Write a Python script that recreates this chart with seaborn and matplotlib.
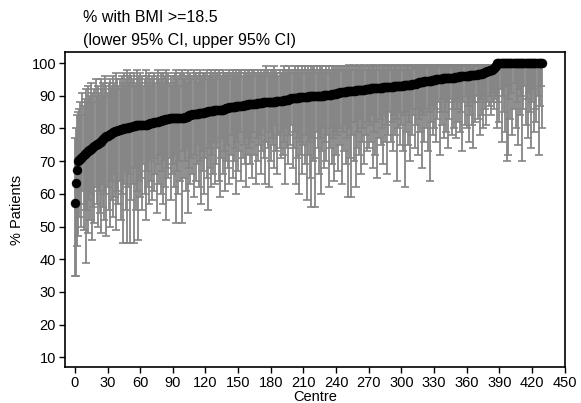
import numpy as np
import pandas as pd
import seaborn as sns
import matplotlib
matplotlib.use("Agg")
import matplotlib.pyplot as plt

# % of patients with BMI >= 18.5 per centre, sorted, with 95% CI
pct = [
    57.1, 63.2, 67.4, 70.0, 70.4, 70.8, 71.1, 71.4, 71.8, 72.2,
    72.5, 72.8, 73.0, 73.3, 73.5, 73.8, 74.1, 74.4, 74.7, 75.0,
    75.2, 75.4, 75.6, 75.8, 76.0, 76.4, 76.7, 77.0, 77.3, 77.6,
    77.8, 78.0, 78.2, 78.4, 78.6, 78.8, 79.0, 79.1, 79.2, 79.3,
    79.5, 79.6, 79.7, 79.8, 79.9, 80.0, 80.0, 80.1, 80.2, 80.3,
    80.4, 80.5, 80.6, 80.7, 80.8, 80.9, 81.0, 81.0, 81.0, 81.0,
    81.0, 81.0, 81.1, 81.1, 81.1, 81.2, 81.2, 81.3, 81.5, 81.7,
    81.8, 81.8, 81.8, 81.9, 82.0, 82.0, 82.1, 82.2, 82.3, 82.4,
    82.5, 82.6, 82.7, 82.8, 82.9, 83.0, 83.0, 83.1, 83.1, 83.1,
    83.2, 83.2, 83.3, 83.3, 83.3, 83.3, 83.3, 83.3, 83.3, 83.3,
    83.3, 83.4, 83.5, 83.6, 83.8, 84.0, 84.2, 84.2, 84.3, 84.3,
    84.4, 84.4, 84.5, 84.5, 84.6, 84.6, 84.6, 84.6, 84.7, 84.8,
    85.0, 85.1, 85.2, 85.3, 85.3, 85.4, 85.4, 85.5, 85.6, 85.7,
    85.7, 85.7, 85.7, 85.7, 85.7, 85.7, 85.8, 85.9, 86.0, 86.2,
    86.3, 86.4, 86.5, 86.5, 86.6, 86.7, 86.7, 86.7, 86.8, 86.8,
    86.9, 86.9, 87.0, 87.0, 87.0, 87.1, 87.1, 87.2, 87.3, 87.4,
    87.5, 87.5, 87.5, 87.5, 87.5, 87.6, 87.6, 87.7, 87.7, 87.8,
    87.8, 87.9, 87.9, 88.0, 88.0, 88.0, 88.0, 88.0, 88.0, 88.1,
    88.1, 88.2, 88.2, 88.2, 88.2, 88.3, 88.3, 88.4, 88.4, 88.5,
    88.5, 88.5, 88.6, 88.6, 88.7, 88.7, 88.8, 89.0, 89.1, 89.2,
    89.2, 89.3, 89.3, 89.3, 89.4, 89.4, 89.5, 89.5, 89.5, 89.5,
    89.5, 89.6, 89.6, 89.7, 89.7, 89.8, 89.8, 89.9, 89.9, 90.0,
    90.0, 90.0, 90.0, 90.0, 90.0, 90.0, 90.0, 90.0, 90.0, 90.1,
    90.1, 90.2, 90.2, 90.2, 90.3, 90.3, 90.4, 90.4, 90.5, 90.6,
    90.7, 90.8, 90.9, 91.0, 91.1, 91.2, 91.2, 91.3, 91.3, 91.3,
    91.4, 91.4, 91.4, 91.5, 91.5, 91.5, 91.6, 91.6, 91.7, 91.7,
    91.7, 91.7, 91.8, 91.8, 91.8, 91.9, 91.9, 92.0, 92.0, 92.0,
    92.1, 92.2, 92.3, 92.3, 92.3, 92.3, 92.4, 92.4, 92.4, 92.5,
    92.5, 92.5, 92.5, 92.6, 92.6, 92.6, 92.6, 92.7, 92.7, 92.7,
    92.8, 92.8, 92.8, 92.9, 92.9, 92.9, 93.0, 93.0, 93.0, 93.0,
    93.1, 93.1, 93.2, 93.2, 93.2, 93.3, 93.3, 93.3, 93.4, 93.4,
    93.5, 93.5, 93.6, 93.7, 93.8, 94.0, 94.1, 94.2, 94.3, 94.3,
    94.3, 94.4, 94.4, 94.4, 94.5, 94.5, 94.6, 94.6, 94.7, 94.7,
    94.8, 94.9, 95.0, 95.1, 95.2, 95.2, 95.2, 95.2, 95.3, 95.3,
    95.3, 95.3, 95.3, 95.4, 95.4, 95.4, 95.5, 95.5, 95.5, 95.6,
    95.6, 95.7, 95.8, 95.9, 96.0, 96.0, 96.0, 96.1, 96.1, 96.1,
    96.2, 96.2, 96.2, 96.3, 96.3, 96.3, 96.4, 96.4, 96.5, 96.5,
    96.6, 96.6, 96.7, 96.7, 96.8, 96.9, 97.0, 97.2, 97.4, 97.6,
    97.7, 97.8, 97.9, 98.0, 98.2, 98.5, 98.8, 99.2, 100, 100,
    100, 100, 100, 100, 100, 100, 100, 100, 100, 100,
    100, 100, 100, 100, 100, 100, 100, 100, 100, 100,
    100, 100, 100, 100, 100, 100, 100, 100, 100, 100,
    100, 100, 100, 100, 100, 100, 100, 100, 100, 100,
]

ci_lower = [
    35, 35, 44, 47, 53, 57, 50, 61, 49, 55,
    39, 55, 48, 58, 52, 60, 46, 56, 51, 62,
    57, 50, 61, 54, 48, 63, 56, 52, 60, 47,
    62, 55, 50, 64, 58, 53, 66, 59, 49, 61,
    57, 64, 52, 60, 45, 63, 67, 55, 45, 62,
    66, 45, 58, 63, 45, 68, 55, 61, 46, 64,
    59, 65, 55, 69, 60, 52, 67, 62, 57, 70,
    64, 58, 71, 61, 66, 54, 69, 63, 72, 60,
    67, 57, 70, 62, 52, 68, 65, 71, 58, 66,
    69, 62, 72, 51, 67, 60, 70, 64, 51, 73,
    65, 70, 61, 74, 54, 68, 63, 71, 66, 59,
    72, 64, 69, 75, 62, 70, 57, 73, 67, 60,
    71, 65, 55, 74, 68, 62, 72, 66, 76, 63,
    69, 74, 64, 59, 71, 77, 66, 73, 61, 70,
    75, 68, 63, 72, 78, 65, 70, 74, 60, 76,
    67, 73, 79, 64, 71, 75, 69, 62, 77, 72,
    74, 69, 76, 65, 79, 72, 63, 77, 70, 75,
    78, 66, 73, 80, 71, 63, 76, 74, 62, 79,
    70, 77, 75, 68, 81, 73, 66, 78, 74, 71,
    79, 72, 76, 63, 80, 74, 69, 78, 75, 81,
    68, 74, 79, 63, 71, 77, 60, 76, 72, 66,
    75, 69, 78, 58, 72, 76, 65, 56, 77, 70,
    71, 56, 79, 74, 66, 77, 60, 73, 80, 68,
    76, 70, 78, 62, 74, 80, 69, 77, 64, 79,
    72, 78, 67, 80, 75, 63, 79, 73, 81, 69,
    77, 59, 80, 71, 59, 78, 70, 82, 62, 74,
    79, 72, 83, 66, 76, 80, 69, 78, 73, 82,
    74, 81, 76, 84, 68, 79, 72, 82, 65, 77,
    83, 75, 80, 69, 84, 76, 81, 66, 78, 85,
    76, 82, 73, 84, 78, 83, 64, 80, 85, 75,
    81, 73, 84, 62, 79, 85, 75, 82, 70, 86,
    78, 84, 74, 81, 86, 72, 83, 79, 85, 68,
    84, 76, 86, 80, 73, 85, 64, 82, 87, 78,
    80, 86, 76, 83, 88, 72, 85, 81, 89, 77,
    85, 79, 88, 74, 83, 89, 78, 86, 80, 88,
    77, 86, 82, 89, 79, 85, 73, 88, 81, 90,
    80, 87, 76, 84, 89, 81, 74, 88, 82, 90,
    83, 88, 78, 89, 84, 80, 90, 86, 81, 88,
    87, 90, 84, 88, 91, 86, 89, 90, 80, 88,
    82, 92, 76, 90, 85, 79, 93, 70, 72, 89,
    83, 91, 78, 86, 94, 80, 88, 75, 92, 84,
    90, 70, 86, 93, 81, 89, 77, 91, 85, 74,
    88, 92, 79, 86, 82, 90, 72, 87, 93, 80,
]

ci_upper = [
    77, 80, 84, 85, 86, 88, 84, 91, 87, 89,
    92, 88, 93, 90, 89, 94, 91, 88, 92, 95,
    90, 93, 91, 89, 95, 92, 94, 90, 96, 93,
    91, 94, 95, 92, 93, 96, 94, 92, 97, 95,
    93, 95, 92, 96, 94, 97, 93, 95, 98, 96,
    94, 97, 96, 95, 97, 93, 94, 98, 96, 95,
    97, 94, 96, 93, 95, 98, 96, 94, 97, 95,
    93, 96, 95, 97, 94, 96, 98, 95, 94, 97,
    95, 97, 94, 96, 98, 95, 97, 94, 96, 93,
    96, 94, 97, 98, 95, 96, 93, 97, 98, 95,
    97, 95, 96, 94, 98, 96, 97, 95, 96, 98,
    95, 97, 96, 94, 97, 98, 96, 95, 97, 96,
    97, 98, 95, 96, 97, 98, 96, 97, 95, 98,
    96, 97, 98, 97, 95, 96, 98, 97, 96, 97,
    97, 96, 98, 97, 95, 98, 97, 96, 98, 97,
    96, 98, 97, 98, 96, 97, 98, 97, 96, 98,
    98, 97, 96, 98, 97, 98, 97, 96, 98, 97,
    97, 98, 96, 97, 98, 97, 99, 98, 97, 96,
    98, 97, 98, 99, 97, 98, 97, 96, 98, 97,
    97, 98, 99, 97, 98, 97, 98, 99, 97, 98,
    98, 97, 99, 98, 97, 99, 98, 97, 98, 99,
    98, 99, 97, 98, 99, 98, 97, 99, 98, 99,
    99, 98, 99, 97, 98, 99, 98, 99, 98, 97,
    98, 99, 98, 99, 98, 97, 99, 98, 99, 98,
    99, 98, 99, 98, 99, 99, 98, 99, 98, 99,
    99, 98, 99.5, 99, 98, 99, 99.5, 98, 99, 99,
    98, 99, 99.5, 99, 98, 99, 99.5, 99, 98, 99,
    99, 99.5, 98, 99, 99.5, 99, 98, 99, 99.5, 99,
    99, 98, 99.5, 99, 99, 99.5, 98, 99, 99.5, 99,
    99.5, 99, 98, 99, 99.5, 99, 99, 98, 99.5, 99,
    99, 99.5, 99, 98, 99, 99.5, 99, 99.5, 98, 99,
    99.5, 99, 99, 98.5, 99.5, 99, 99.5, 99, 98.5, 99.5,
    99, 99.5, 99, 99.5, 98.5, 99, 99.5, 99, 99.5, 99,
    99.5, 99, 99.5, 99, 99.5, 98.5, 99, 99.5, 99, 99.5,
    99, 99.5, 99, 99.5, 99, 99.5, 99, 98.5, 99.5, 99,
    99.5, 99, 99.5, 99, 99.5, 99, 99.5, 99, 99.5, 99,
    99, 99.5, 99, 99.5, 99, 99.5, 99, 99.5, 99, 99.5,
    99.5, 99, 99.5, 99, 99.5, 99, 99.5, 99.5, 99, 99.5,
    99.5, 99.5, 99.5, 99.5, 99.5, 99.5, 99.5, 99.8, 100, 100,
    100, 100, 100, 100, 100, 100, 100, 100, 100, 100,
    100, 100, 100, 100, 100, 100, 100, 100, 100, 100,
    100, 100, 100, 100, 100, 100, 100, 100, 100, 100,
    100, 100, 100, 100, 100, 100, 100, 100, 100, 100,
]

df = pd.DataFrame({"pct": pct, "lo": ci_lower, "hi": ci_upper})
df["centre"] = np.arange(len(df))

sns.set_style("ticks")
plt.rcParams["font.family"] = ["Liberation Sans", "DejaVu Sans"]
plt.rcParams["text.color"] = "black"
plt.rcParams["axes.labelcolor"] = "black"
plt.rcParams["xtick.color"] = "black"
plt.rcParams["ytick.color"] = "black"

fig, ax = plt.subplots(figsize=(5.81, 4.03), dpi=100)
fig.subplots_adjust(left=0.112, right=0.972, top=0.871, bottom=0.089)

# CI bars first so the dots sit on top
ax.errorbar(df["centre"], df["pct"],
            yerr=[df["pct"] - df["lo"], df["hi"] - df["pct"]],
            fmt="none", ecolor="#858585", elinewidth=1.3, capsize=3,
            capthick=1.2, zorder=1)
sns.scatterplot(data=df, x="centre", y="pct", color="black", s=42,
                edgecolor="black", linewidth=0.3, ax=ax, zorder=2)

ax.set_xlim(-9, 450)
ax.set_ylim(7, 103.4)
ax.set_xticks(np.arange(0, 451, 30))
ax.set_yticks(np.arange(10, 101, 10))
ax.tick_params(labelsize=10.5, length=4, width=1, pad=2.5)
ax.set_xlabel("Centre", fontsize=10.5, labelpad=0)
ax.set_ylabel("% Patients", fontsize=10.5, labelpad=5)
for sp in ax.spines.values():
    sp.set_visible(True)
    sp.set_linewidth(1.2)
    sp.set_color("black")

fig.text(83 / 581, 1 - 18 / 403, "% with BMI >=18.5", fontsize=11.5,
         va="center", ha="left")
fig.text(83 / 581, 1 - 40 / 403, "(lower 95% CI, upper 95% CI)",
         fontsize=11.5, va="center", ha="left")

fig.savefig("out.png", dpi=100)
